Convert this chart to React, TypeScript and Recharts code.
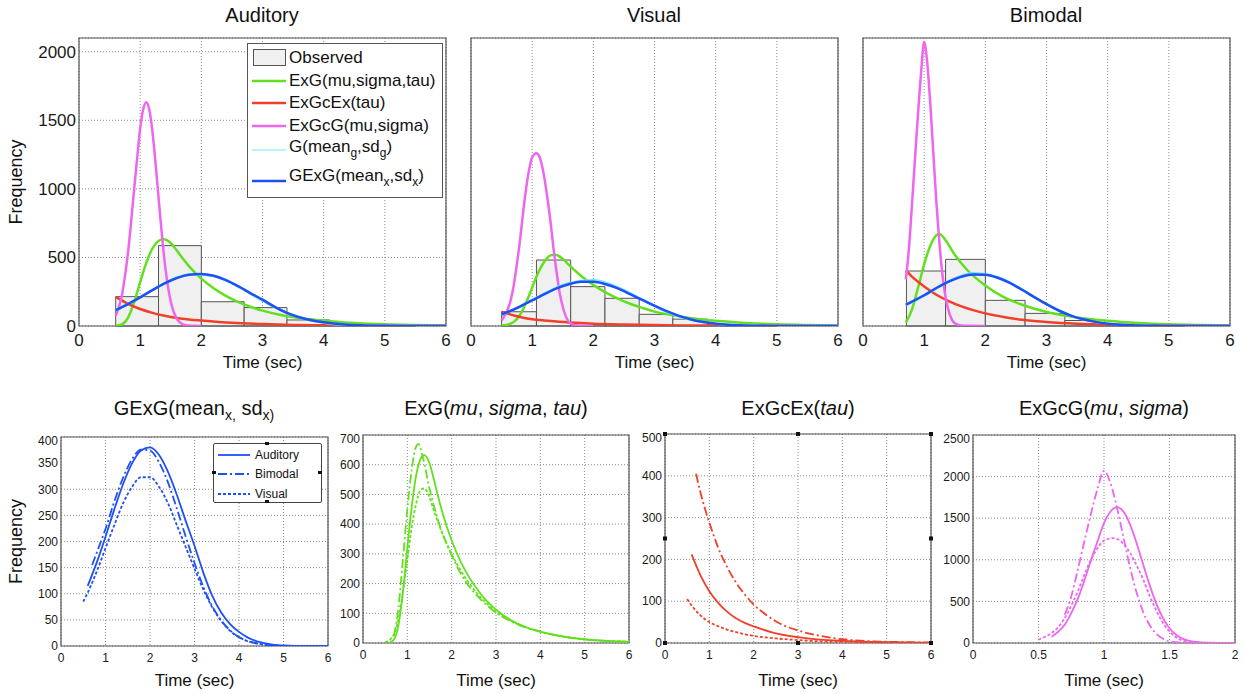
import React from "react"
import { LineChart, Line, XAxis, YAxis, CartesianGrid, ReferenceArea, ReferenceDot } from "recharts"

const FONT = "'Liberation Sans', Arial, Helvetica, sans-serif"

const GREEN = "#62e01e"
const RED = "#f0402a"
const MAGENTA = "#ee66ee"
const BLUE = "#1f50f5"
const CYAN = "#70e8f0"

const DASHDOT = "9 3 2 3"
const DOTTED = "3 2"

// ticks
const xTicks6 = [0, 1, 2, 3, 4, 5, 6]
const xTicks2 = [0, 0.5, 1, 1.5, 2]
const yTicksTop = [0, 500, 1000, 1500, 2000]
const yTicksGexg = [0, 50, 100, 150, 200, 250, 300, 350, 400]
const yTicksExg = [0, 100, 200, 300, 400, 500, 600, 700]
const yTicksExgcex = [0, 100, 200, 300, 400, 500]
const yTicksExgcg = [0, 500, 1000, 1500, 2000, 2500]

// observed histograms: bin edges and counts
const obsAuditoryEdges = [0.6, 1.3, 2.0, 2.7, 3.4, 4.1, 4.8, 5.5]
const obsAuditoryCounts = [214, 586, 177, 134, 44, 12, 4]
const obsVisualEdges = [0.5, 1.07, 1.63, 2.19, 2.75, 3.3, 3.87, 4.43, 5.0]
const obsVisualCounts = [104, 481, 287, 202, 85, 50, 10, 4]
const obsBimodalEdges = [0.71, 1.35, 2.0, 2.65, 3.3, 3.95, 4.6, 5.25]
const obsBimodalCounts = [401, 486, 187, 92, 40, 12, 4]

// fitted curves [time, frequency]
const exgAuditory = [[0.6, 2], [0.7, 12], [0.8, 60], [0.9, 170], [1.0, 320], [1.1, 460], [1.2, 565], [1.3, 620], [1.38, 632], [1.5, 605], [1.6, 550], [1.7, 490], [1.8, 435], [2.0, 345], [2.2, 275], [2.4, 220], [2.6, 176], [2.8, 140], [3.0, 112], [3.3, 80], [3.6, 58], [4.0, 38], [4.5, 22], [5.0, 12], [5.5, 7], [6.0, 4]]
const exgBimodal = [[0.7, 25], [0.8, 120], [0.9, 280], [1.0, 450], [1.1, 585], [1.2, 662], [1.25, 670], [1.35, 625], [1.5, 520], [1.7, 410], [2.0, 295], [2.3, 210], [2.6, 155], [3.0, 102], [3.5, 62], [4.0, 38], [4.5, 22], [5.0, 12], [5.5, 7], [6.0, 4]]
const exgVisual = [[0.5, 3], [0.6, 10], [0.7, 30], [0.8, 80], [0.9, 170], [1.0, 280], [1.1, 390], [1.2, 470], [1.3, 515], [1.38, 520], [1.5, 490], [1.6, 445], [1.8, 365], [2.0, 300], [2.2, 245], [2.4, 200], [2.6, 162], [2.8, 132], [3.0, 105], [3.3, 78], [3.6, 57], [4.0, 38], [4.5, 22], [5.0, 12], [5.5, 7], [6.0, 4]]

const exgcexAuditory = [[0.6, 212], [0.8, 162], [1.0, 124], [1.2, 96], [1.4, 75], [1.6, 59], [1.8, 48], [2.0, 40], [2.5, 23], [3.0, 14], [3.5, 8], [4.0, 5], [5.0, 2], [6.0, 1]]
const exgcexBimodal = [[0.7, 405], [0.8, 360], [0.9, 322], [1.0, 288], [1.2, 228], [1.4, 182], [1.6, 145], [1.8, 116], [2.0, 92], [2.3, 66], [2.6, 46], [3.0, 30], [3.5, 17], [4.0, 9], [4.5, 5], [5.0, 3], [5.5, 2], [6.0, 1]]
const exgcexVisual = [[0.5, 105], [0.6, 90], [0.8, 66], [1.0, 50], [1.2, 40], [1.4, 32], [1.6, 26], [1.8, 21], [2.0, 17], [2.5, 11], [3.0, 7], [3.5, 4], [4.0, 3], [5.0, 1], [6.0, 0]]

const exgcgAuditory = [[0.6, 75], [0.65, 135], [0.7, 220], [0.75, 360], [0.8, 530], [0.85, 750], [0.9, 990], [0.95, 1220], [1.0, 1440], [1.05, 1580], [1.1, 1632], [1.15, 1576], [1.2, 1420], [1.25, 1195], [1.3, 940], [1.35, 690], [1.4, 470], [1.45, 300], [1.5, 178], [1.55, 100], [1.6, 52], [1.7, 12], [1.8, 3], [1.9, 1], [2.0, 0]]
const exgcgBimodal = [[0.7, 340], [0.75, 560], [0.8, 880], [0.85, 1220], [0.9, 1550], [0.95, 1850], [1.0, 2070], [1.05, 1920], [1.1, 1620], [1.15, 1260], [1.2, 900], [1.25, 600], [1.3, 370], [1.35, 210], [1.4, 110], [1.45, 50], [1.5, 20], [1.6, 4], [1.7, 1], [2.0, 0]]
const exgcgVisual = [[0.5, 40], [0.55, 75], [0.6, 120], [0.65, 190], [0.7, 300], [0.75, 450], [0.8, 620], [0.85, 820], [0.9, 1000], [0.95, 1140], [1.0, 1230], [1.07, 1260], [1.1, 1250], [1.15, 1190], [1.2, 1080], [1.25, 930], [1.3, 760], [1.35, 560], [1.4, 390], [1.45, 240], [1.5, 140], [1.55, 70], [1.6, 30], [1.7, 5], [1.8, 1], [2.0, 0]]

const gAuditory = [[0.6, 113], [1.0, 208], [1.4, 311], [1.8, 376], [2.2, 367], [2.6, 289], [3.0, 185], [3.4, 95], [3.8, 40], [4.2, 13], [4.6, 4], [5.0, 1], [6.0, 0]]
const gBimodal = [[0.7, 152], [1.0, 222], [1.4, 326], [1.8, 384], [2.2, 356], [2.6, 266], [3.0, 160], [3.4, 76], [3.8, 30], [4.2, 9], [4.6, 2], [5.0, 0], [6.0, 0]]
const gVisual = [[0.5, 82], [0.8, 142], [1.2, 236], [1.6, 312], [2.0, 333], [2.4, 282], [2.8, 192], [3.2, 104], [3.6, 46], [4.0, 17], [4.4, 5], [5.0, 0], [6.0, 0]]

const gexgAuditory = [[0.6, 115], [0.8, 159], [1.0, 209], [1.2, 262], [1.4, 311], [1.6, 350], [1.8, 374], [2.0, 380], [2.2, 366], [2.4, 334], [2.6, 290], [2.8, 240], [3.0, 192], [3.2, 140], [3.4, 96], [3.6, 64], [3.8, 42], [4.0, 27], [4.2, 16], [4.4, 9], [4.6, 5], [4.8, 2], [5.0, 1], [5.5, 0], [6.0, 0]]
const gexgBimodal = [[0.7, 155], [0.8, 178], [1.0, 224], [1.2, 277], [1.4, 323], [1.6, 358], [1.8, 376], [2.0, 374], [2.2, 352], [2.4, 314], [2.6, 264], [2.8, 210], [3.0, 159], [3.2, 113], [3.4, 76], [3.6, 49], [3.8, 30], [4.0, 17], [4.2, 9], [4.4, 5], [4.6, 2], [4.8, 1], [5.0, 0], [5.5, 0], [6.0, 0]]
const gexgVisual = [[0.5, 85], [0.6, 102], [0.8, 142], [1.0, 187], [1.2, 232], [1.4, 274], [1.6, 305], [1.8, 323], [2.0, 323], [2.2, 305], [2.4, 274], [2.6, 232], [2.8, 190], [3.0, 148], [3.2, 108], [3.4, 74], [3.6, 48], [3.8, 29], [4.0, 17], [4.2, 9], [4.4, 5], [4.6, 2], [4.8, 1], [5.0, 0], [5.5, 0], [6.0, 0]]

// selection handles left on the ExGcEx axes
const exgcexHandles = [[0, 500], [3, 500], [6, 500], [0, 250], [6, 250], [0, 0], [3, 0], [6, 0]]

const toPts = (a: number[][]) => a.map(([t, v]) => ({ t, v }))

function curve(key: string, pts: number[][], color: string, width: number, dash?: string) {
  return (
    <Line
      key={key}
      data={toPts(pts)}
      dataKey="v"
      type="monotone"
      stroke={color}
      strokeWidth={width}
      strokeDasharray={dash}
      dot={false}
      activeDot={false}
      isAnimationActive={false}
    />
  )
}

function histogram(key: string, edges: number[], counts: number[]) {
  return counts.map((c, i) => (
    <ReferenceArea
      key={`${key}-${i}`}
      x1={edges[i]}
      x2={edges[i + 1]}
      y1={0}
      y2={c}
      fill="#f0f0f0"
      fillOpacity={1}
      stroke="#555"
      strokeWidth={1}
    />
  ))
}

const squareShape = (p: any) => <rect x={p.cx - 2} y={p.cy - 2} width={4} height={4} fill="#111" />

type PanelProps = {
  box: number[]
  xMax: number
  xTicks: number[]
  yMax: number
  yTicks: number[]
  yw: number
  xh: number
  fs: number
  showY?: boolean
  freq?: boolean
  children?: React.ReactNode
}

function Panel({ box, xMax, xTicks, yMax, yTicks, yw, xh, fs, showY, freq, children }: PanelProps) {
  const [l, t, r, b] = box
  const mt = 4
  const mr = 14
  const w = r - l
  const h = b - t
  const tickStyle = { fontSize: fs, fill: "#1a1a1a", fontFamily: FONT }
  return (
    <div style={{ position: "absolute", left: l - yw, top: t - mt }}>
      <LineChart width={yw + w + mr} height={mt + h + xh} margin={{ top: mt, right: mr, left: 0, bottom: 0 }}>
        <CartesianGrid stroke="#8a8a8a" strokeDasharray="1 2" />
        <XAxis
          dataKey="t"
          type="number"
          domain={[0, xMax]}
          ticks={xTicks}
          allowDataOverflow
          height={xh}
          tick={tickStyle}
          tickLine={false}
          axisLine={false}
          tickSize={fs > 14 ? 4 : 3}
          tickMargin={4}
          label={{ value: "Time (sec)", position: "insideBottom", offset: 8, fontSize: 17, fill: "#111", fontFamily: FONT }}
        />
        <YAxis
          type="number"
          domain={[0, yMax]}
          ticks={yTicks}
          allowDataOverflow
          width={yw}
          tick={showY ? tickStyle : false}
          tickLine={false}
          axisLine={false}
          tickSize={2}
          tickMargin={1}
          label={
            freq
              ? { value: "Frequency", angle: -90, position: "insideLeft", offset: 16, fontSize: 18, fill: "#111", fontFamily: FONT, style: { textAnchor: "middle" } }
              : undefined
          }
        />
        {children}
        <ReferenceArea x1={0} x2={xMax} y1={0} y2={yMax} fill="none" stroke="#555" strokeWidth={1.2} />
      </LineChart>
    </div>
  )
}

function Title({ cx, top, children }: { cx: number; top: number; children: React.ReactNode }) {
  return (
    <div
      style={{
        position: "absolute",
        left: cx - 150,
        top,
        width: 300,
        textAlign: "center",
        fontFamily: FONT,
        fontSize: 20,
        lineHeight: "24px",
        color: "#111",
        whiteSpace: "nowrap",
      }}
    >
      {children}
    </div>
  )
}

function Swatch({ color, dash, width, w }: { color: string; dash?: string; width: number; w: number }) {
  return (
    <svg width={w} height={8} style={{ position: "absolute", left: 0, top: 8 }}>
      <line x1={0} y1={4} x2={w} y2={4} stroke={color} strokeWidth={width} strokeDasharray={dash} />
    </svg>
  )
}

function TopLegend() {
  const sub = { fontSize: 12, verticalAlign: "-5px", lineHeight: 0 } as React.CSSProperties
  const rows: { cy: number; color?: string; lw?: number; label: React.ReactNode }[] = [
    { cy: 57, label: "Observed" },
    { cy: 80, color: GREEN, lw: 2.5, label: "ExG(mu,sigma,tau)" },
    { cy: 102, color: RED, lw: 2.5, label: "ExGcEx(tau)" },
    { cy: 125, color: MAGENTA, lw: 2.5, label: "ExGcG(mu,sigma)" },
    { cy: 146, color: CYAN, lw: 1, label: <>G(mean<span style={sub}>g</span>,sd<span style={sub}>g</span>)</> },
    { cy: 175, color: BLUE, lw: 2.5, label: <>GExG(mean<span style={sub}>x</span>,sd<span style={sub}>x</span>)</> },
  ]
  return (
    <div
      style={{
        position: "absolute",
        left: 247,
        top: 43,
        width: 194,
        height: 153,
        border: "1px solid #555",
        background: "#fff",
        fontFamily: FONT,
        fontSize: 17,
        color: "#111",
      }}
    >
      {rows.map((r, i) => (
        <div key={i} style={{ position: "absolute", left: 4, top: r.cy - 43 - 12, height: 24, width: 188 }}>
          {r.color ? (
            <div style={{ position: "absolute", left: 0, top: i >= 4 ? (i === 5 ? 5 : 3) : 0, width: 34, height: 24 }}>
              <Swatch color={r.color} width={r.lw || 2} w={34} />
            </div>
          ) : (
            <div style={{ position: "absolute", left: 1, top: 3, width: 31, height: 15, background: "#f0f0f0", border: "1px solid #555" }} />
          )}
          <div style={{ position: "absolute", left: 37, top: 0, lineHeight: "24px", whiteSpace: "nowrap" }}>{r.label}</div>
        </div>
      ))}
    </div>
  )
}

function GexgLegend() {
  const rows = [
    { cy: 454, dash: undefined, label: "Auditory" },
    { cy: 473, dash: DASHDOT, label: "Bimodal" },
    { cy: 493, dash: DOTTED, label: "Visual" },
  ]
  const handle = (left: number, top: number) => (
    <div style={{ position: "absolute", left, top, width: 4, height: 3, background: "#111" }} />
  )
  return (
    <div
      style={{
        position: "absolute",
        left: 213,
        top: 443,
        width: 107,
        height: 58,
        border: "1px solid #444",
        borderRadius: 2,
        background: "#fff",
        fontFamily: FONT,
        fontSize: 12,
        color: "#111",
      }}
    >
      {rows.map((r, i) => (
        <div key={i} style={{ position: "absolute", left: 4, top: r.cy - 443 - 12, height: 24, width: 100 }}>
          <div style={{ position: "absolute", left: 0, top: 0, width: 32, height: 24 }}>
            <Swatch color={BLUE} dash={r.dash} width={1.8} w={32} />
          </div>
          <div style={{ position: "absolute", left: 37, top: 0, lineHeight: "24px", whiteSpace: "nowrap" }}>{r.label}</div>
        </div>
      ))}
      {handle(51, -2)}
      {handle(51, 56)}
      {handle(-2, 27)}
      {handle(104, 27)}
    </div>
  )
}

export default function App() {
  const sub = { fontSize: 14, verticalAlign: "-5px", lineHeight: 0 } as React.CSSProperties
  return (
    <div style={{ position: "absolute", left: 0, top: 0, width: 1245, height: 694, background: "#fff", overflow: "hidden" }}>
      <Title cx={262} top={3}>Auditory</Title>
      <Title cx={654} top={3}>Visual</Title>
      <Title cx={1046} top={3}>Bimodal</Title>
      <Title cx={194} top={396}>
        GExG(mean<span style={sub}>x,</span> sd<span style={sub}>x)</span>
      </Title>
      <Title cx={496} top={396}>
        ExG(<i>mu</i>, <i>sigma</i>, <i>tau</i>)
      </Title>
      <Title cx={798} top={396}>
        ExGcEx(<i>tau</i>)
      </Title>
      <Title cx={1104} top={396}>
        ExGcG(<i>mu</i>, <i>sigma</i>)
      </Title>

      <Panel box={[79, 38, 446, 326]} xMax={6} xTicks={xTicks6} yMax={2100} yTicks={yTicksTop} yw={79} xh={50} fs={17} showY freq>
        {histogram("aud", obsAuditoryEdges, obsAuditoryCounts)}
        {curve("exg", exgAuditory, GREEN, 2.5)}
        {curve("exgcex", exgcexAuditory, RED, 2.5)}
        {curve("exgcg", exgcgAuditory, MAGENTA, 2.5)}
        {curve("g", gAuditory, CYAN, 2.5)}
        {curve("gexg", gexgAuditory, BLUE, 2.5)}
      </Panel>
      <Panel box={[471, 38, 838, 326]} xMax={6} xTicks={xTicks6} yMax={2100} yTicks={yTicksTop} yw={12} xh={50} fs={17}>
        {histogram("vis", obsVisualEdges, obsVisualCounts)}
        {curve("exg", exgVisual, GREEN, 2.5)}
        {curve("exgcex", exgcexVisual, RED, 2.5)}
        {curve("exgcg", exgcgVisual, MAGENTA, 2.5)}
        {curve("g", gVisual, CYAN, 2.5)}
        {curve("gexg", gexgVisual, BLUE, 2.5)}
      </Panel>
      <Panel box={[863, 38, 1230, 326]} xMax={6} xTicks={xTicks6} yMax={2100} yTicks={yTicksTop} yw={12} xh={50} fs={17}>
        {histogram("bim", obsBimodalEdges, obsBimodalCounts)}
        {curve("exg", exgBimodal, GREEN, 2.5)}
        {curve("exgcex", exgcexBimodal, RED, 2.5)}
        {curve("exgcg", exgcgBimodal, MAGENTA, 2.5)}
        {curve("g", gBimodal, CYAN, 2.5)}
        {curve("gexg", gexgBimodal, BLUE, 2.5)}
      </Panel>
      <TopLegend />

      <Panel box={[61, 437, 328, 646]} xMax={6} xTicks={xTicks6} yMax={400} yTicks={yTicksGexg} yw={61} xh={48} fs={12} showY freq>
        {curve("aud", gexgAuditory, BLUE, 1.8)}
        {curve("bim", gexgBimodal, BLUE, 1.8, DASHDOT)}
        {curve("vis", gexgVisual, BLUE, 1.8, DOTTED)}
      </Panel>
      <GexgLegend />
      <Panel box={[363, 435, 629, 643]} xMax={6} xTicks={xTicks6} yMax={700} yTicks={yTicksExg} yw={30} xh={51} fs={12} showY>
        {curve("aud", exgAuditory, GREEN, 1.8)}
        {curve("bim", exgBimodal, GREEN, 1.8, DASHDOT)}
        {curve("vis", exgVisual, GREEN, 1.8, DOTTED)}
      </Panel>
      <Panel box={[665, 434, 931, 643]} xMax={6} xTicks={xTicks6} yMax={500} yTicks={yTicksExgcex} yw={30} xh={51} fs={12} showY>
        {curve("aud", exgcexAuditory, RED, 1.8)}
        {curve("bim", exgcexBimodal, RED, 1.8, DASHDOT)}
        {curve("vis", exgcexVisual, RED, 1.8, DOTTED)}
        {exgcexHandles.map(([x, y], i) => (
          <ReferenceDot key={`h${i}`} x={x} y={y} r={2} shape={squareShape} ifOverflow="visible" />
        ))}
      </Panel>
      <Panel box={[973, 435, 1235, 643]} xMax={2} xTicks={xTicks2} yMax={2500} yTicks={yTicksExgcg} yw={34} xh={51} fs={12} showY>
        {curve("aud", exgcgAuditory, MAGENTA, 1.8)}
        {curve("bim", exgcgBimodal, MAGENTA, 1.8, DASHDOT)}
        {curve("vis", exgcgVisual, MAGENTA, 1.8, DOTTED)}
      </Panel>
    </div>
  )
}
